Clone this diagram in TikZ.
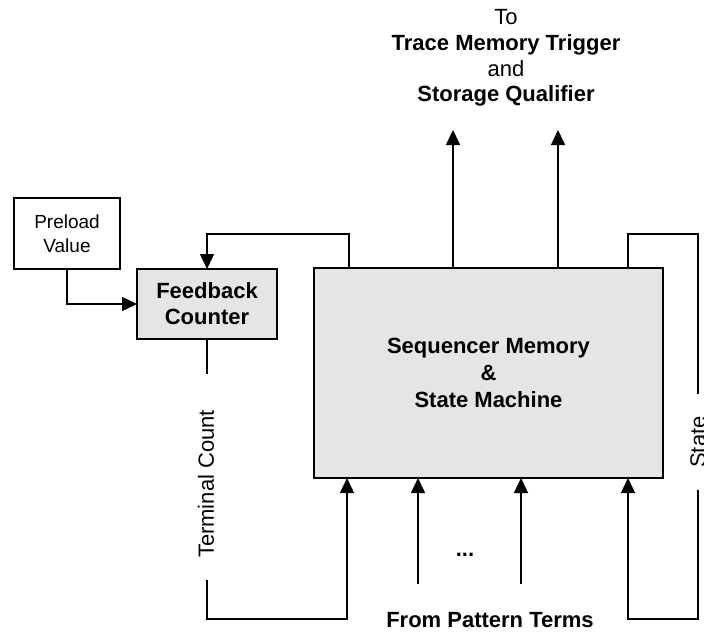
\documentclass[tikz,border=0pt]{standalone}
\usepackage{fontspec}
\setmainfont{Liberation Sans}
\usetikzlibrary{arrows.meta,calc}
\definecolor{boxgray}{HTML}{E5E5E5}
\begin{document}
\begin{tikzpicture}[x=0.5pt,y=-0.5pt,
  line width=0.75pt,
  arr/.style={-{Triangle[length=7.5pt,width=7pt]}},
  blk/.style={draw, inner sep=0pt, outer sep=0pt, align=center, font=\fontsize{11}{13}\selectfont\bfseries},
  lbl/.style={font=\fontsize{11}{13}\selectfont, inner sep=0pt, outer sep=0pt}]
\useasboundingbox (0,0) rectangle (704,632);

% boxes
\node[draw, inner sep=0pt, outer sep=0pt, minimum width=53pt, minimum height=35.5pt, align=center,
      font=\fontsize{9.5}{12.2}\selectfont] (pre) at (67,233.5) {Preload\\Value};
\node[blk, fill=boxgray, minimum width=70pt, minimum height=35pt] (fc) at (207,304) {Feedback\\Counter};
\node[blk, fill=boxgray, minimum width=174.5pt, minimum height=105pt,
      font=\fontsize{11}{13.5}\selectfont\bfseries] (main) at (488.5,373) {Sequencer Memory\\\&\\State Machine};

% labels
\node[lbl, align=center, font=\fontsize{11}{12.8}\selectfont] (to) at (506,58)
  {To\\\textbf{Trace Memory Trigger}\\and\\\textbf{Storage Qualifier}};
\node[lbl, rotate=90] (tc) at (206,484) {Terminal Count};
\node[lbl, rotate=90] (state) at (698,442) {State};
\node[lbl, font=\fontsize{11}{13}\selectfont\bfseries, anchor=base] (dots) at (465,556) {...};
\node[lbl, font=\fontsize{11}{13}\selectfont\bfseries, anchor=base] (from) at (490,627) {From Pattern Terms};

% coordinates
\coordinate (fb) at (349,234);
\coordinate (o1) at (453,130);
\coordinate (o2) at (558,130);
\coordinate (st) at (628,234);
\coordinate (sr) at (698,234);
\coordinate (sgt) at (698,394);
\coordinate (sgb) at (698,490);
\coordinate (sb) at (698,619);
\coordinate (sbl) at (628,619);
\coordinate (tct) at (207,374);
\coordinate (tcg) at (207,580);
\coordinate (tcb) at (207,619);
\coordinate (tcr) at (347,619);
\coordinate (p1) at (418,584);
\coordinate (p2) at (521,584);

% connectors
\draw[arr] (pre.south) |- (fc.west);
\draw[arr] (fb |- main.north) -- (fb) -| (fc.north);
\draw[arr] (o1 |- main.north) -- (o1);
\draw[arr] (o2 |- main.north) -- (o2);
\draw (st |- main.north) -- (st) -- (sr) -- (sgt);
\draw[arr] (sgb) -- (sb) -- (sbl) -- (sbl |- main.south);
\draw (fc.south) -- (tct);
\draw[arr] (tcg) -- (tcb) -- (tcr) -- (tcr |- main.south);
\draw[arr] (p1) -- (p1 |- main.south);
\draw[arr] (p2) -- (p2 |- main.south);
\end{tikzpicture}
\end{document}
